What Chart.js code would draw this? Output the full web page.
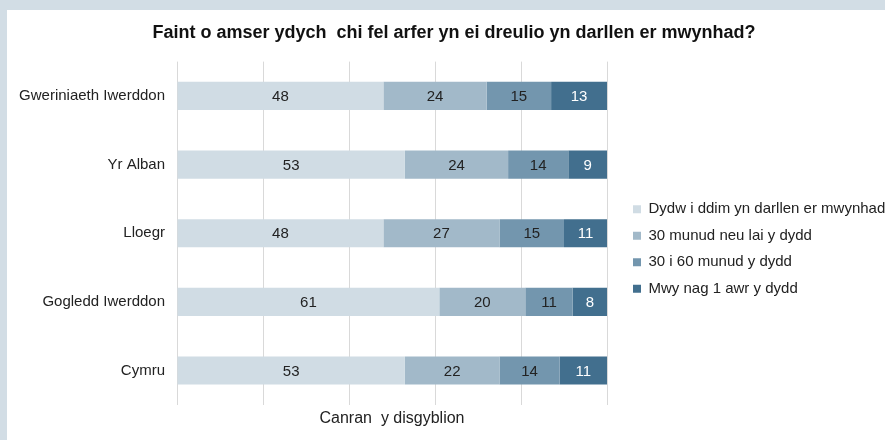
<!DOCTYPE html>
<html>
<head>
<meta charset="utf-8">
<script src="https://cdn.jsdelivr.net/npm/chart.js@4/dist/chart.umd.min.js"></script>
<style>
  body { margin: 0; background: #d2dde5; width: 885px; height: 440px; overflow: hidden; }
  #wrap { position: absolute; left: 7px; top: 10px; width: 878px; height: 430px; background: #fff; }
</style>
</head>
<body>
<div id="wrap"><canvas id="chart"></canvas></div>
<script>
const countries = ['Gweriniaeth Iwerddon', 'Yr Alban', 'Lloegr', 'Gogledd Iwerddon', 'Cymru'];
const notReading = [48, 53, 48, 61, 53];
const upTo30 = [24, 24, 27, 20, 22];
const from30to60 = [15, 14, 15, 11, 14];
const overHour = [13, 9, 11, 8, 11];
const seriesNames = ['Dydw i ddim yn darllen er mwynhad', '30 munud neu lai y dydd', '30 i 60 munud y dydd', 'Mwy nag 1 awr y dydd'];
const colours = ['#d0dce4', '#a2b9c9', '#7396ae', '#426f8e'];
const labelColours = ['#222', '#222', '#222', '#fff'];
const fontFamily = '"Liberation Sans", Arial, sans-serif';

// value labels in the middle of every segment
const barLabels = {
  id: 'barLabels',
  afterDatasetsDraw: (chart) => {
    const ctx = chart.ctx;
    const area = chart.chartArea;
    ctx.save();
    ctx.font = '15px ' + fontFamily;
    ctx.textAlign = 'center';
    ctx.textBaseline = 'middle';
    chart.data.datasets.forEach((ds, i) => {
      chart.getDatasetMeta(i).data.forEach((bar, j) => {
        const x0 = Math.max(Math.min(bar.base, bar.x), area.left);
        const x1 = Math.min(Math.max(bar.base, bar.x), area.right);
        ctx.fillStyle = labelColours[i];
        ctx.fillText(ds.data[j], (x0 + x1) / 2, bar.y + 1);
      });
    });
    ctx.restore();
  }
};

// put legend and title where they sit in the original
const placeBoxes = {
  id: 'placeBoxes',
  afterLayout: (chart) => {
    const lg = chart.legend;
    const dx = 625 - (lg.left + 10.5);
    lg.left += dx;
    lg.right = chart.width + 60;
    lg.top += 28; lg.bottom += 28;
    chart.titleBlock.left = 0;
    chart.titleBlock.right = 894;
  }
};

const ctx = document.getElementById('chart').getContext('2d');
const myChart = new Chart(ctx, {
  type: 'bar',
  data: {
    labels: countries,
    datasets: [notReading, upTo30, from30to60, overHour].map((vals, i) => ({
      label: seriesNames[i],
      data: vals,
      backgroundColor: colours[i],
      borderWidth: 0,
      categoryPercentage: 1,
      barPercentage: 0.41
    }))
  },
  options: {
    indexAxis: 'y',
    responsive: true,
    maintainAspectRatio: false,
    animation: false,
    layout: { padding: { left: 0, right: 78, top: 0, bottom: 8 } },
    scales: {
      x: {
        stacked: true,
        min: 0,
        max: 100,
        ticks: { display: false, stepSize: 20 },
        grid: { color: '#d9d9d9', drawTicks: false },
        border: { display: false },
        title: {
          display: true,
          text: 'Canran  y disgyblion',
          color: '#222',
          font: { family: fontFamily, size: 16 },
          padding: { top: 4, bottom: 4 }
        }
      },
      y: {
        stacked: true,
        grid: { display: false, drawTicks: false },
        border: { display: false },
        ticks: {
          color: '#222',
          padding: 12,
          font: { family: fontFamily, size: 15 }
        },
        afterFit: (scale) => { scale.width = 170; }
      }
    },
    plugins: {
      title: {
        display: true,
        text: 'Faint o amser ydych  chi fel arfer yn ei dreulio yn darllen er mwynhad?',
        color: '#111',
        font: { family: fontFamily, size: 18, weight: 'bold' },
        padding: { top: 12, bottom: 18 }
      },
      legend: {
        position: 'right',
        labels: {
          boxWidth: 8,
          boxHeight: 8,
          padding: 11.5,
          color: '#222',
          font: { family: fontFamily, size: 15 }
        }
      },
      tooltip: { enabled: false }
    }
  },
  plugins: [barLabels, placeBoxes]
});
</script>
</body>
</html>
